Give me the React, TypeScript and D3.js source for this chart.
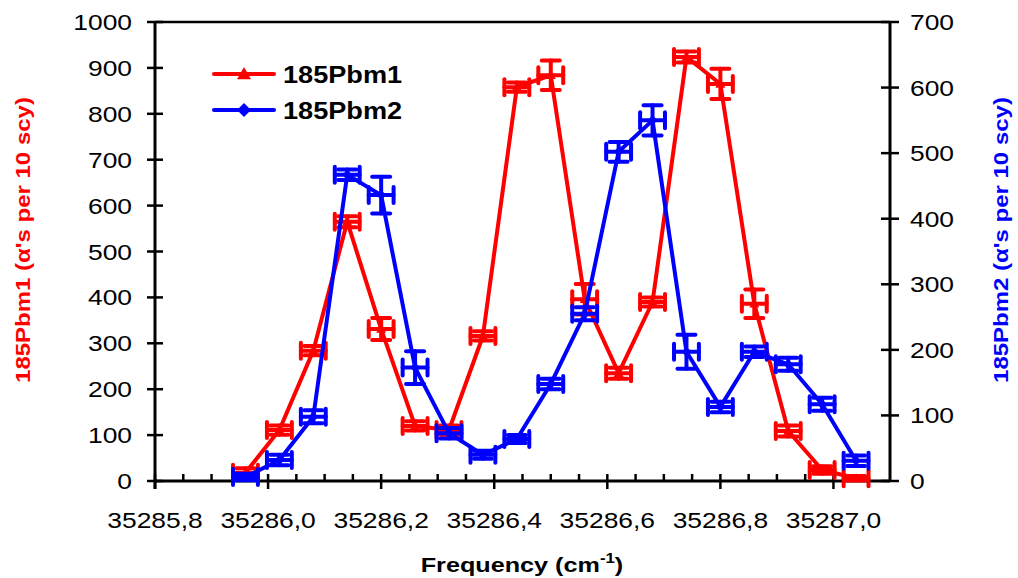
import React from "react";
import * as d3 from "d3";

const freq = [35285.96, 35286.02, 35286.08, 35286.14, 35286.2, 35286.26, 35286.32, 35286.38, 35286.44, 35286.5, 35286.56, 35286.62, 35286.68, 35286.74, 35286.8, 35286.86, 35286.92, 35286.98, 35287.04];
const pbm1 = [18, 111, 284, 565, 331, 120, 111, 316, 858, 884, 396, 235, 390, 924, 865, 386, 109, 24, 6];
const pbm1Err = [10, 10, 10, 12, 24, 10, 10, 10, 10, 32, 33, 12, 10, 12, 33, 31, 12, 8, 5];
const pbm2 = [6, 32, 98, 467, 436, 173, 73, 40, 64, 148, 255, 502, 550, 197, 113, 197, 178, 117, 31];
const pbm2Err = [5, 8, 10, 8, 28, 25, 8, 6, 6, 8, 10, 15, 23, 26, 8, 8, 10, 10, 8];
const xErr = 0.022;
const xTicks = [35285.8, 35286.0, 35286.2, 35286.4, 35286.6, 35286.8, 35287.0];
const xMinorTicks = [35285.85, 35285.9, 35285.95, 35286.05, 35286.1, 35286.15, 35286.25, 35286.3, 35286.35, 35286.45, 35286.5, 35286.55, 35286.65, 35286.7, 35286.75, 35286.85, 35286.9, 35286.95, 35287.05];
const leftTicks = [0, 100, 200, 300, 400, 500, 600, 700, 800, 900, 1000];
const rightTicks = [0, 100, 200, 300, 400, 500, 600, 700];

const RED = "#ff0000";
const BLUE = "#0000ff";
const FONT = "Arial, 'Liberation Sans', sans-serif";

export default function App() {
  const L = 155, R = 890, T = 22, B = 481;
  const x = d3.scaleLinear().domain([35285.8, 35287.1]).range([L, R]);
  const yL = d3.scaleLinear().domain([0, 1000]).range([B, T]);
  const yR = d3.scaleLinear().domain([0, 700]).range([B, T]);

  const series = [
    { vals: pbm1, errs: pbm1Err, y: yL, color: RED, marker: "tri" },
    { vals: pbm2, errs: pbm2Err, y: yR, color: BLUE, marker: "dia" },
  ];

  const markerPath = (type: string, cx: number, cy: number, s: number) =>
    type === "tri"
      ? `M${cx},${cy - s}L${cx + s},${cy + s * 0.75}L${cx - s},${cy + s * 0.75}Z`
      : `M${cx},${cy - s}L${cx + s},${cy}L${cx},${cy + s}L${cx - s},${cy}Z`;

  const SX = 1.2;

  return (
    <svg width={1018} height={578} style={{ position: "absolute", left: 0, top: 0, background: "#fff" }} fontFamily={FONT}>
      {/* frame */}
      <line x1={L} x2={R} y1={T} y2={T} stroke="#000" strokeWidth={2.5} />
      {/* x axis */}
      <line x1={L} x2={R} y1={B} y2={B} stroke="#000" strokeWidth={3} />
      {xTicks.map((t) => (
        <g key={"xt" + t}>
          <line x1={x(t)} x2={x(t)} y1={B - 7} y2={B + 8} stroke="#000" strokeWidth={2.5} />
          <text transform={`translate(${x(t)},528) scale(${SX},1)`} textAnchor="middle" fontSize={22} fill="#000">{d3.format(".1f")(t).replace(".", ",")}</text>
        </g>
      ))}
      {xMinorTicks.map((t) => (
        <line key={"xm" + t} x1={x(t)} x2={x(t)} y1={B - 7} y2={B} stroke="#000" strokeWidth={2.5} />
      ))}
      {/* left axis */}
      <line x1={L} x2={L} y1={T} y2={B + 8} stroke="#000" strokeWidth={3} />
      {leftTicks.map((t) => (
        <g key={"lt" + t}>
          <line x1={L - 8} x2={L + 8} y1={yL(t)} y2={yL(t)} stroke="#000" strokeWidth={2.5} />
          <text transform={`translate(132,${yL(t) + 8}) scale(${SX},1)`} textAnchor="end" fontSize={22} fill="#000">{t}</text>
        </g>
      ))}
      {/* right axis */}
      <line x1={R} x2={R} y1={T} y2={B} stroke="#000" strokeWidth={3} />
      {rightTicks.map((t) => (
        <g key={"rt" + t}>
          <line x1={R - 9} x2={R + 9} y1={yR(t)} y2={yR(t)} stroke="#000" strokeWidth={2.5} />
          <text transform={`translate(910,${yR(t) + 8}) scale(${SX},1)`} textAnchor="start" fontSize={22} fill="#000">{t}</text>
        </g>
      ))}

      {/* series */}
      {series.map((s, si) => {
        const line = d3.line<number>().x((_, i) => x(freq[i])).y((v) => s.y(v));
        return (
          <g key={"s" + si}>
            <path d={line(s.vals) || ""} fill="none" stroke={s.color} strokeWidth={4} strokeLinejoin="round" />
            {s.vals.map((v, i) => {
              const cx = x(freq[i]);
              const cy = s.y(v);
              const yt = s.y(v + s.errs[i]);
              const yb = s.y(v - s.errs[i]);
              const xl = x(freq[i] - xErr);
              const xr = x(freq[i] + xErr);
              return (
                <g key={i} stroke={s.color} strokeWidth={4} strokeLinecap="round" fill="none">
                  <line x1={cx} x2={cx} y1={yt} y2={yb} />
                  <line x1={cx - 9} x2={cx + 9} y1={yt} y2={yt} />
                  <line x1={cx - 9} x2={cx + 9} y1={yb} y2={yb} />
                  <line x1={xl} x2={xr} y1={cy} y2={cy} />
                  <line x1={xl} x2={xl} y1={cy - 8} y2={cy + 8} />
                  <line x1={xr} x2={xr} y1={cy - 8} y2={cy + 8} />
                  <path d={markerPath(s.marker, cx, cy, 5)} fill={s.color} stroke="none" />
                </g>
              );
            })}
          </g>
        );
      })}

      {/* legend */}
      <line x1={214} x2={274} y1={74} y2={74} stroke={RED} strokeWidth={4} strokeLinecap="round" />
      <path d={markerPath("tri", 244, 74, 7)} fill={RED} />
      <text transform={`translate(283,83) scale(1.18,1)`} fontSize={23} fontWeight="bold">185Pbm1</text>
      <line x1={214} x2={274} y1={110} y2={110} stroke={BLUE} strokeWidth={4} strokeLinecap="round" />
      <path d={markerPath("dia", 244, 110, 7)} fill={BLUE} />
      <text transform={`translate(283,119) scale(1.18,1)`} fontSize={23} fontWeight="bold">185Pbm2</text>

      {/* axis titles */}
      <text transform="translate(30,240) rotate(-90) scale(1.2,1)" textAnchor="middle" fontSize={20} fontWeight="bold" fill={RED}>185Pbm1 (α's per 10 scy)</text>
      <text transform="translate(1008,240) rotate(-90) scale(1.2,1)" textAnchor="middle" fontSize={20} fontWeight="bold" fill={BLUE}>185Pbm2 (α's per 10 scy)</text>
      <text transform="translate(522,572) scale(1.2,1)" textAnchor="middle" fontSize={21} fontWeight="bold" fill="#000">
        Frequency (cm<tspan dy={-9} fontSize={14}>-1</tspan><tspan dy={9}>)</tspan>
      </text>
    </svg>
  );
}
